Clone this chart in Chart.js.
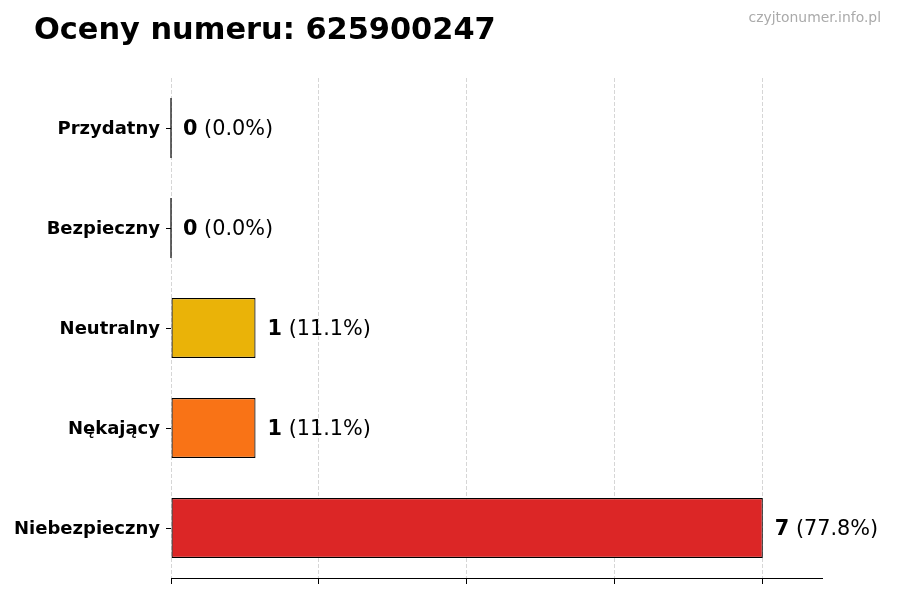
<!DOCTYPE html>
<html lang="pl">
<head>
<meta charset="utf-8">
<script src="https://cdn.jsdelivr.net/npm/chart.js@4/dist/chart.umd.min.js"></script>
<style>
  html, body { margin: 0; padding: 0; background: #fff; }
  #wrap { width: 900px; height: 600px; position: relative; }
</style>
</head>
<body>
<div id="wrap"><canvas id="myChart" width="900" height="600"></canvas></div>
<script>
// dane wykresu
const categories = ['Przydatny', 'Bezpieczny', 'Neutralny', 'Nękający', 'Niebezpieczny'];
const counts = [0, 0, 1, 1, 7];
const barColors = ['#22c55e', '#3b82f6', '#eab308', '#f97316', '#dc2626'];
const xTicks = [0, 1.75, 3.5, 5.25, 7];
const xMax = 7.7;
const titleText = 'Oceny numeru: 625900247';
const watermark = 'czyjtonumer.info.pl';

const FONT = '"DejaVu Sans", sans-serif';

document.addEventListener('DOMContentLoaded', function() {
    const total = counts.reduce((a, b) => a + b, 0);

    // tytuł, znak wodny, etykiety wartości i słupki zerowe
    const decorations = {
        id: 'decorations',
        afterDatasetsDraw(chart) {
            const ctx = chart.ctx;
            const meta = chart.getDatasetMeta(0);
            ctx.save();
            meta.data.forEach((bar, i) => {
                const v = counts[i];
                if (v === 0) {
                    ctx.strokeStyle = '#000';
                    ctx.lineWidth = 1.2;
                    ctx.beginPath();
                    ctx.moveTo(bar.x, bar.y - bar.height / 2);
                    ctx.lineTo(bar.x, bar.y + bar.height / 2);
                    ctx.stroke();
                }
                const pct = total ? (v / total * 100).toFixed(1) : '0.0';
                let x = bar.x + 12;
                const y = bar.y + 1.5;
                ctx.textBaseline = 'middle';
                ctx.textAlign = 'left';
                ctx.fillStyle = '#000';
                ctx.font = 'bold 20.8px ' + FONT;
                const num = String(v);
                ctx.fillText(num, x, y);
                x += ctx.measureText(num).width;
                ctx.font = '20.8px ' + FONT;
                ctx.fillText(' (' + pct + '%)', x, y);
            });
            ctx.restore();
        },
        afterDraw(chart) {
            const ctx = chart.ctx;
            ctx.save();
            ctx.textBaseline = 'middle';
            ctx.fillStyle = '#000';
            ctx.textAlign = 'left';
            ctx.font = 'bold 30.4px ' + FONT;
            ctx.fillText(titleText, 34, 31);
            ctx.fillStyle = '#aaaaaa';
            ctx.textAlign = 'right';
            ctx.font = '13.9px ' + FONT;
            ctx.fillText(watermark, 881, 18);
            ctx.restore();
        }
    };

    const config = {
        type: 'bar',
        data: {
            labels: categories,
            datasets: [{
                data: counts,
                backgroundColor: barColors,
                borderColor: '#000',
                borderWidth: 1.2,
                borderSkipped: false,
                barPercentage: 0.6,
                categoryPercentage: 1.0
            }]
        },
        options: {
            indexAxis: 'y',
            responsive: false,
            animation: false,
            devicePixelRatio: 1,
            layout: { padding: { top: 78, right: 78, bottom: 0, left: 0 } },
            plugins: {
                legend: { display: false },
                title: { display: false },
                tooltip: { enabled: false }
            },
            scales: {
                x: {
                    type: 'linear',
                    min: 0,
                    max: xMax,
                    afterBuildTicks: s => { s.ticks = xTicks.map(v => ({ value: v })); },
                    afterFit: s => { s.height = 22; },
                    ticks: { display: false },
                    grid: {
                        color: '#d6d6d6',
                        lineWidth: 1,
                        tickColor: '#000',
                        tickLength: 6,
                        tickBorderDash: [1, 0]
                    },
                    border: { display: true, color: '#000', width: 1, dash: [4, 2] }
                },
                y: {
                    afterFit: s => { s.width = 171; },
                    ticks: {
                        color: '#000',
                        padding: 6,
                        labelOffset: 1.5,
                        font: { family: FONT, size: 18, weight: 'bold' }
                    },
                    grid: {
                        offset: false,
                        drawOnChartArea: false,
                        drawTicks: true,
                        tickColor: '#000',
                        tickLength: 5
                    },
                    border: { display: false }
                }
            }
        },
        plugins: [decorations]
    };

    new Chart(document.getElementById('myChart'), config);
});
</script>
</body>
</html>
